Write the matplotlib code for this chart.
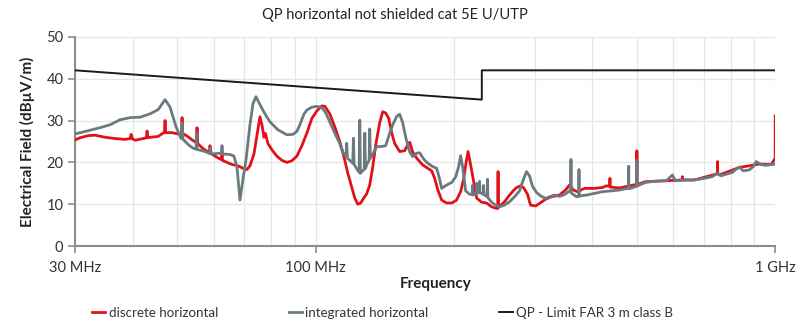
import matplotlib
matplotlib.use("Agg")
import matplotlib.pyplot as plt
from matplotlib.ticker import LogLocator, FixedLocator, NullFormatter

plt.rcParams['font.family'] = ['Lato', 'DejaVu Sans']

title = "QP horizontal not shielded cat 5E U/UTP"
ylabel = "Electrical Field (dBµV/m)"
xlabel = "Frequency"
legend_labels = ["discrete horizontal", "integrated horizontal", "QP - Limit FAR 3 m class B"]
xtick_vals = [30, 100, 1000]
xtick_labels = ["30 MHz", "100 MHz", "1 GHz"]
ytick_vals = [0, 10, 20, 30, 40, 50]

# limit line (MHz, dBuV/m)
limit_f = [30, 230, 230, 1000]
limit_v = [42, 35, 42, 42]

# integrated horizontal (grey)
grey_f = [30.0, 31.54, 34.0, 35.74, 37.57, 39.5, 41.53, 43.66, 45.44, 47.06, 48.25, 49.72,
          51.0, 51.24, 51.5, 52.8, 54.14, 54.96, 55.1, 55.25, 57.49, 58.94, 59.1, 59.3,
          61.97, 62.45, 62.59, 62.75, 65.15, 66.46, 67.47, 68.49, 69.52, 70.57, 72.0, 73.09,
          74.19, 75.69, 77.61, 79.57, 82.82, 86.63, 89.27, 91.07, 92.45, 94.32, 95.74, 98.17,
          100.66, 103.2, 105.3, 107.4, 110.1, 112.9, 114.6, 116.5, 116.9, 117.3, 118.7,
          120.5, 120.9, 121.3, 122.9, 124.4, 124.8, 125.2, 126.1, 127.6, 128.0, 128.4, 129.2,
          130.8, 131.2, 131.6, 133.2, 135.9, 139.3, 142.1, 145.0, 147.2, 150.2, 152.4, 154.7,
          157.1, 160.3, 162.7, 166.0, 168.5, 171.9, 175.4, 179.8, 183.4, 186.2, 188.1, 192.8,
          197.7, 201.7, 204.8, 206.8, 208.9, 212.1, 216.4, 219.2, 219.6, 220.0, 223.7, 224.1,
          224.5, 227.1, 227.5, 227.9, 231.7, 232.1, 232.5, 236.2, 236.7, 237.1, 241.5, 246.4,
          251.4, 257.7, 264.3, 271.0, 277.8, 283.4, 287.7, 292.1, 296.5, 302.6, 308.7, 316.5,
          322.9, 331.0, 339.4, 348.0, 356.8, 359.2, 359.5, 359.8, 362.2, 369.5, 373.9, 374.2,
          374.5, 377.0, 388.5, 404.3, 420.8, 440.2, 458.2, 476.9, 479.7, 480.1, 480.5, 484.1,
          496.4, 499.8, 500.2, 500.6, 503.9, 521.9, 537.8, 559.7, 579.7, 597.4, 606.4, 634.3,
          660.2, 683.7, 708.1, 729.7, 748.1, 763.2, 782.5, 806.4, 822.7, 835.1, 852.0, 878.0,
          895.7, 909.3, 927.6, 951.1, 1000.0]
grey_v = [26.8, 27.4, 28.3, 29.0, 30.2, 30.7, 30.8, 31.6, 32.6, 35.0, 33.2, 28.5,
          25.7, 29.5, 25.5, 24.3, 23.4, 23.2, 27.0, 23.1, 22.6, 22.1, 23.5, 22.0,
          22.2, 22.1, 24.0, 22.0, 21.9, 21.5, 18.8, 11.0, 16.0, 20.5, 29.0, 34.0,
          35.7, 33.8, 31.6, 29.7, 27.8, 26.6, 26.7, 27.4, 29.0, 31.5, 32.5, 33.2,
          33.4, 33.1, 31.8, 29.7, 27.0, 24.5, 22.5, 21.5, 24.6, 21.0, 20.5,
          19.8, 25.8, 19.5, 18.5, 17.6, 30.1, 17.4, 17.8, 18.3, 27.0, 18.6, 19.4,
          20.5, 28.0, 21.0, 22.0, 23.8, 23.8, 24.0, 27.0, 29.0, 31.0, 31.5, 29.5,
          26.0, 22.5, 21.4, 22.2, 22.3, 20.8, 19.8, 19.0, 18.6, 16.0, 13.8, 14.6,
          15.2, 16.5, 19.0, 21.6, 19.0, 13.2, 12.4, 12.3, 14.5, 12.2, 12.6, 15.0,
          12.6, 12.8, 15.5, 12.8, 12.4, 14.5, 12.3, 11.8, 16.0, 11.6, 10.5, 9.8,
          9.4, 9.8, 10.6, 11.8, 13.2, 16.0, 17.8, 16.8, 14.3, 12.8, 12.0, 11.4,
          11.8, 12.2, 11.9, 12.3, 13.2, 13.0, 20.7, 12.8, 12.5, 11.8, 11.9, 18.3,
          12.0, 12.0, 12.2, 12.6, 13.0, 13.2, 13.4, 13.8, 13.8, 19.1, 13.8, 13.8,
          14.2, 14.3, 20.5, 14.4, 14.5, 15.2, 15.4, 15.6, 15.6, 17.0, 15.6, 15.8,
          15.8, 16.0, 16.3, 16.6, 17.4, 16.8, 17.2, 17.6, 18.4, 18.9, 18.0, 18.2,
          19.0, 20.2, 19.6, 19.3, 19.6]

# discrete horizontal (red)
red_f = [30.0, 30.76, 32.02, 33.16, 34.86, 36.64, 38.52, 39.5, 39.7, 39.9, 40.5, 42.58,
         42.85, 43.0, 43.15, 43.66, 45.44, 46.59, 46.9, 47.06, 47.2, 48.74, 50.22, 51.1,
         51.24, 51.4, 52.54, 53.87, 55.1, 55.23, 55.4, 56.91, 58.36, 58.8, 58.94, 59.1,
         59.83, 61.97, 62.45, 62.59, 62.75, 64.18, 65.8, 67.8, 69.52, 70.93, 72.0, 73.45,
         74.56, 75.69, 76.45, 77.22, 77.8, 78.78, 80.37, 82.4, 84.49, 86.63, 88.82, 91.07,
         93.38, 95.74, 98.17, 100.66, 103.2, 104.8, 107.4, 110.1, 112.9, 115.2, 117.5, 119.9,
         121.7, 123.6, 125.4, 127.3, 129.2, 131.2, 133.2, 135.2, 137.9, 140.0, 142.1, 144.3,
         146.5, 148.7, 152.4, 156.3, 158.7, 160.3, 162.7, 166.0, 171.0, 175.4, 178.9, 181.6,
         184.4, 188.1, 192.8, 197.7, 202.7, 206.8, 210.0, 212.6, 214.7, 217.4, 220.7, 224.1,
         229.7, 235.6, 241.5, 247.6, 249.2, 249.5, 249.8, 251.4, 257.7, 264.3, 269.6, 273.7,
         279.2, 283.4, 289.2, 293.5, 301.1, 307.1, 316.5, 326.1, 339.4, 349.7, 356.8, 364.0,
         371.4, 384.6, 404.3, 420.8, 429.4, 436.6, 437.0, 437.4, 458.2, 476.9, 491.5, 499.8,
         500.2, 500.6, 503.9, 521.9, 548.6, 627.6, 628.0, 628.4, 666.8, 748.8, 749.3, 749.8,
         755.6, 835.1, 923.0, 980.1, 1000.0, 1000.0]
red_v = [25.4, 25.9, 26.4, 26.5, 26.0, 25.7, 25.5, 25.7, 26.7, 25.7, 25.3, 25.8,
         25.9, 27.5, 25.9, 26.0, 26.2, 27.0, 27.1, 30.0, 27.1, 27.1, 26.8, 26.9,
         30.7, 26.9, 26.3, 25.4, 24.7, 28.3, 24.5, 23.3, 22.5, 22.3, 24.0, 22.2,
         21.8, 20.8, 20.7, 22.5, 20.5, 20.0, 19.5, 19.2, 18.6, 18.3, 19.2, 22.0,
         26.5, 30.9, 29.0, 26.0, 26.9, 24.5, 23.0, 21.5, 20.5, 20.0, 20.4, 21.5,
         24.0, 27.0, 30.5, 32.3, 33.5, 33.4, 31.6, 28.5, 25.0, 21.5, 17.5, 14.0,
         11.5, 10.0, 10.3, 11.5, 12.5, 14.6, 19.0, 24.2, 29.5, 32.1, 31.8, 30.5,
         27.0, 24.5, 22.6, 22.8, 24.2, 24.8, 22.5, 21.0, 19.4, 18.6, 18.0, 16.2,
         13.5, 11.0, 10.3, 10.3, 11.0, 13.0, 16.0, 20.0, 22.6, 19.5, 15.5, 11.5,
         10.5, 10.3, 9.4, 9.0, 9.0, 17.8, 9.2, 9.5, 10.6, 12.2, 13.3, 14.0,
         14.4, 14.0, 12.4, 9.8, 9.6, 10.2, 11.2, 11.8, 12.2, 13.4, 14.6, 13.4,
         13.0, 13.8, 13.8, 14.0, 14.4, 14.3, 16.2, 14.1, 13.9, 14.3, 14.6, 14.7,
         22.8, 14.8, 14.8, 15.4, 15.5, 15.8, 16.6, 15.8, 15.8, 17.3, 20.2, 17.3,
         17.0, 18.8, 19.6, 19.5, 21.0, 31.1]

RED = "#e3101a"
GREY = "#6b7a80"
BLACK = "#1a1a1a"
AXIS = "#8c8c8c"
GRID = "#e6e6e6"

fig = plt.figure(figsize=(8.0, 3.26), dpi=100)
ax = fig.add_axes([0.094, 0.245, 0.875, 0.642])

l1, = ax.plot(red_f, red_v, color=RED, lw=2.0, zorder=3, label=legend_labels[0])
l2, = ax.plot(grey_f, grey_v, color=GREY, lw=2.0, zorder=4, label=legend_labels[1])
l3, = ax.plot(limit_f, limit_v, color=BLACK, lw=1.4, zorder=5, label=legend_labels[2])

ax.set_xscale('log')
ax.set_xlim(30, 1000)
ax.set_ylim(0, 50)

ax.xaxis.set_major_locator(FixedLocator(xtick_vals))
ax.set_xticklabels(xtick_labels)
ax.xaxis.set_minor_locator(LogLocator(base=10, subs=range(2, 10)))
ax.xaxis.set_minor_formatter(NullFormatter())
ax.set_yticks(ytick_vals)

ax.grid(True, which='both', axis='x', color=GRID, lw=0.9, zorder=0)
ax.grid(True, which='major', axis='y', color=GRID, lw=0.9, zorder=0)
ax.tick_params(axis='x', which='minor', length=0)
ax.tick_params(axis='both', which='major', length=5, width=1.2, color=AXIS,
               labelsize=10.5, labelcolor="#333333")
ax.tick_params(axis='x', pad=6)
for s in ['top', 'right']:
    ax.spines[s].set_visible(False)
for s in ['left', 'bottom']:
    ax.spines[s].set_color(AXIS)
    ax.spines[s].set_linewidth(1.5)

ax.set_ylabel(ylabel, fontsize=11, fontweight='bold', color="#222222", labelpad=8)
fig.text(0.545, 0.13, xlabel, fontsize=11, fontweight='bold', color="#222222",
         ha='center', va='center')
fig.text(0.494, 0.955, title, fontsize=10.5, color="#222222", ha='center', va='center')

fig.legend(handles=[l1, l2, l3], loc='center', bbox_to_anchor=(0.478, 0.04), ncol=3,
           frameon=False, fontsize=9.6, handlelength=1.0, handletextpad=0.25,
           columnspacing=5.3, labelcolor="#333333")

fig.savefig("out.png", dpi=100)
